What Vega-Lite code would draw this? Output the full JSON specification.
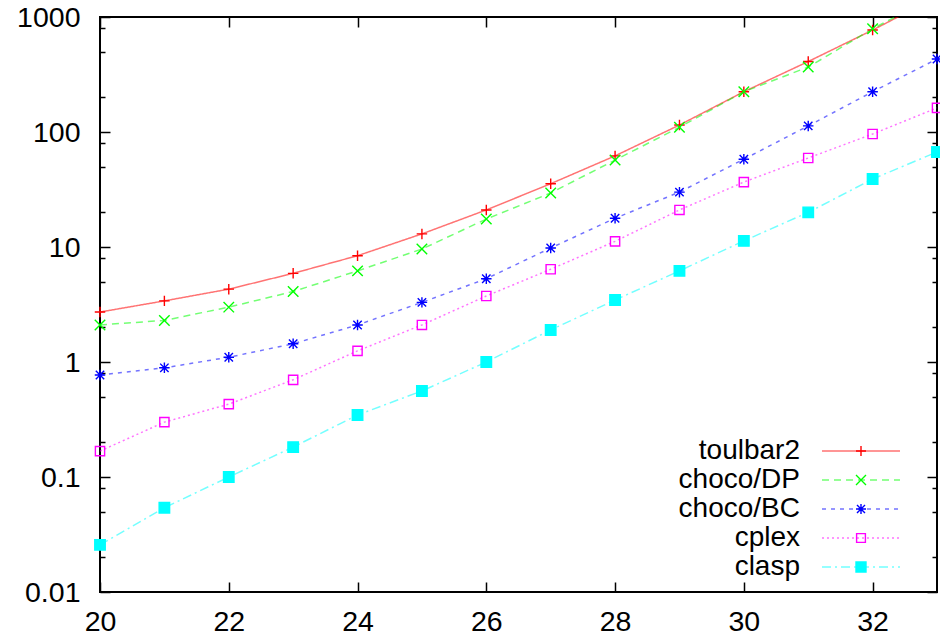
{
  "$schema": "https://vega.github.io/schema/vega-lite/v6.json",
  "width": 837,
  "height": 575,
  "autosize": {"type": "none"},
  "padding": {"left": 100, "top": 17, "right": 3, "bottom": 45},
  "background": "white",
  "config": {
    "view": {"stroke": "black", "strokeWidth": 2},
    "font": "Liberation Sans",
    "axis": {
      "domain": false,
      "grid": false,
      "title": null,
      "labelFont": "Liberation Sans",
      "labelFontSize": 28.5,
      "labelColor": "black",
      "tickColor": "black",
      "tickWidth": 1.5
    }
  },
  "data": {
    "values": [
      {"n": 20, "solver": "toulbar2", "time": 2.72},
      {"n": 21, "solver": "toulbar2", "time": 3.4},
      {"n": 22, "solver": "toulbar2", "time": 4.3},
      {"n": 23, "solver": "toulbar2", "time": 5.9},
      {"n": 24, "solver": "toulbar2", "time": 8.4},
      {"n": 25, "solver": "toulbar2", "time": 13},
      {"n": 26, "solver": "toulbar2", "time": 21},
      {"n": 27, "solver": "toulbar2", "time": 35.5},
      {"n": 28, "solver": "toulbar2", "time": 62},
      {"n": 29, "solver": "toulbar2", "time": 115},
      {"n": 30, "solver": "toulbar2", "time": 224},
      {"n": 31, "solver": "toulbar2", "time": 410},
      {"n": 32, "solver": "toulbar2", "time": 770},
      {"n": 33, "solver": "toulbar2", "time": 1500},
      {"n": 20, "solver": "choco/DP", "time": 2.1},
      {"n": 21, "solver": "choco/DP", "time": 2.3},
      {"n": 22, "solver": "choco/DP", "time": 3.0},
      {"n": 23, "solver": "choco/DP", "time": 4.1},
      {"n": 24, "solver": "choco/DP", "time": 6.2},
      {"n": 25, "solver": "choco/DP", "time": 9.6},
      {"n": 26, "solver": "choco/DP", "time": 17.5},
      {"n": 27, "solver": "choco/DP", "time": 29.5},
      {"n": 28, "solver": "choco/DP", "time": 57},
      {"n": 29, "solver": "choco/DP", "time": 110},
      {"n": 30, "solver": "choco/DP", "time": 224},
      {"n": 31, "solver": "choco/DP", "time": 367},
      {"n": 32, "solver": "choco/DP", "time": 790},
      {"n": 33, "solver": "choco/DP", "time": 1550},
      {"n": 20, "solver": "choco/BC", "time": 0.77},
      {"n": 21, "solver": "choco/BC", "time": 0.89},
      {"n": 22, "solver": "choco/BC", "time": 1.1},
      {"n": 23, "solver": "choco/BC", "time": 1.44},
      {"n": 24, "solver": "choco/BC", "time": 2.1},
      {"n": 25, "solver": "choco/BC", "time": 3.3},
      {"n": 26, "solver": "choco/BC", "time": 5.3},
      {"n": 27, "solver": "choco/BC", "time": 9.8},
      {"n": 28, "solver": "choco/BC", "time": 17.8},
      {"n": 29, "solver": "choco/BC", "time": 30},
      {"n": 30, "solver": "choco/BC", "time": 58},
      {"n": 31, "solver": "choco/BC", "time": 113},
      {"n": 32, "solver": "choco/BC", "time": 224},
      {"n": 33, "solver": "choco/BC", "time": 431},
      {"n": 20, "solver": "cplex", "time": 0.168},
      {"n": 21, "solver": "cplex", "time": 0.30},
      {"n": 22, "solver": "cplex", "time": 0.43},
      {"n": 23, "solver": "cplex", "time": 0.70},
      {"n": 24, "solver": "cplex", "time": 1.25},
      {"n": 25, "solver": "cplex", "time": 2.1},
      {"n": 26, "solver": "cplex", "time": 3.75},
      {"n": 27, "solver": "cplex", "time": 6.4},
      {"n": 28, "solver": "cplex", "time": 11.2},
      {"n": 29, "solver": "cplex", "time": 21},
      {"n": 30, "solver": "cplex", "time": 36.7},
      {"n": 31, "solver": "cplex", "time": 59.4},
      {"n": 32, "solver": "cplex", "time": 96},
      {"n": 33, "solver": "cplex", "time": 162},
      {"n": 20, "solver": "clasp", "time": 0.0257},
      {"n": 21, "solver": "clasp", "time": 0.054},
      {"n": 22, "solver": "clasp", "time": 0.1},
      {"n": 23, "solver": "clasp", "time": 0.182},
      {"n": 24, "solver": "clasp", "time": 0.346},
      {"n": 25, "solver": "clasp", "time": 0.56},
      {"n": 26, "solver": "clasp", "time": 1.0},
      {"n": 27, "solver": "clasp", "time": 1.9},
      {"n": 28, "solver": "clasp", "time": 3.46},
      {"n": 29, "solver": "clasp", "time": 6.2},
      {"n": 30, "solver": "clasp", "time": 11.3},
      {"n": 31, "solver": "clasp", "time": 20},
      {"n": 32, "solver": "clasp", "time": 39},
      {"n": 33, "solver": "clasp", "time": 67}
    ]
  },
  "layer": [
    {
      "mark": {"type": "line", "clip": true, "strokeWidth": 1.5, "strokeOpacity": 0.55},
      "encoding": {
        "x": {
          "field": "n", "type": "quantitative",
          "scale": {"domain": [20, 33], "nice": false, "zero": false},
          "axis": {
            "orient": "bottom",
            "values": [20, 22, 24, 26, 28, 30, 32],
            "tickSize": -10,
            "labelPadding": 25,
            "labelFlush": false
          }
        },
        "y": {
          "field": "time", "type": "quantitative",
          "scale": {"type": "log", "domain": [0.01, 1000], "nice": false},
          "axis": {
            "orient": "left",
            "values": [0.01, 0.02, 0.05, 0.08, 0.1, 0.2, 0.5, 0.8, 1, 2, 5, 8, 10, 20, 50, 80, 100, 200, 500, 800, 1000],
            "labelExpr": "abs(log(datum.value)/LN10 - round(log(datum.value)/LN10)) < 0.001 ? format(datum.value, '~g') : ''",
            "tickSize": {"condition": {"test": "abs(log(datum.value)/LN10 - round(log(datum.value)/LN10)) < 0.001", "value": -10}, "value": -5},
            "labelPadding": 30,
            "labelFlush": false
          }
        },
        "color": {
          "field": "solver", "type": "nominal",
          "scale": {"domain": ["toulbar2", "choco/DP", "choco/BC", "cplex", "clasp"], "range": ["#ff0000", "#00ff00", "#0000ff", "#ff00ff", "#00ffff"]},
          "legend": {
            "orient": "none",
            "legendX": 747,
            "legendY": 420,
            "title": null,
            "padding": 0,
            "symbolType": "M-7.8,0L7.8,0",
            "symbolSize": 100,
            "symbolStrokeWidth": 1.5,
            "symbolOpacity": 0.55,
            "labelAlign": "right",
            "labelOffset": -75,
            "labelFont": "Liberation Sans",
            "labelFontSize": 28,
            "labelColor": "black",
            "rowPadding": 1,
            "labelLimit": 400
          }
        },
        "strokeDash": {
          "field": "solver", "type": "nominal",
          "scale": {"domain": ["toulbar2", "choco/DP", "choco/BC", "cplex", "clasp"], "range": [[1, 0], [7, 5], [4, 5], [2, 3], [9, 4, 2, 4]]}
        }
      }
    },
    {
      "transform": [{"filter": "datum.time <= 1000"}],
      "mark": {"type": "point", "filled": true, "strokeWidth": 1.4, "opacity": 1, "size": 110},
      "encoding": {
        "x": {
          "field": "n", "type": "quantitative",
          "axis": {"orient": "top", "values": [20, 22, 24, 26, 28, 30, 32], "tickSize": -10, "labels": false}
        },
        "y": {
          "field": "time", "type": "quantitative",
          "axis": {
            "orient": "right",
            "values": [0.01, 0.02, 0.05, 0.08, 0.1, 0.2, 0.5, 0.8, 1, 2, 5, 8, 10, 20, 50, 80, 100, 200, 500, 800, 1000],
            "labels": false,
            "tickSize": {"condition": {"test": "abs(log(datum.value)/LN10 - round(log(datum.value)/LN10)) < 0.001", "value": -10}, "value": -5}
          }
        },
        "shape": {
          "field": "solver", "type": "nominal", "sort": null,
          "scale": {"range": ["M-1,0L1,0M0,-1L0,1", "M-1,-1L1,1M-1,1L1,-1", "M-1,0L1,0M0,-1L0,1M-0.8,-0.8L0.8,0.8M-0.8,0.8L0.8,-0.8", "M-0.88,-0.88L0.88,-0.88L0.88,0.88L-0.88,0.88Z", "M-1,-1L1,-1L1,1L-1,1Z"]},
          "legend": {
            "orient": "none",
            "legendX": 747,
            "legendY": 420,
            "title": null,
            "padding": 0,
            "symbolSize": 100,
            "labelAlign": "right",
            "labelOffset": -75,
            "labelFont": "Liberation Sans",
            "labelFontSize": 28,
            "labelOpacity": 0,
            "rowPadding": 1,
            "labelLimit": 400,
            "symbolStrokeWidth": 1.4,
            "symbolOpacity": 1
          }
        },
        "fill": {
          "field": "solver", "type": "nominal", "sort": null,
          "scale": {"range": ["transparent", "transparent", "transparent", "transparent", "#00ffff"]}
        },
        "stroke": {
          "field": "solver", "type": "nominal", "sort": null,
          "scale": {"range": ["#ff0000", "#00ff00", "#0000ff", "#ff00ff", "#00ffff"]}
        }
      }
    }
  ],
  "resolve": {"axis": {"x": "independent", "y": "independent"}}
}
